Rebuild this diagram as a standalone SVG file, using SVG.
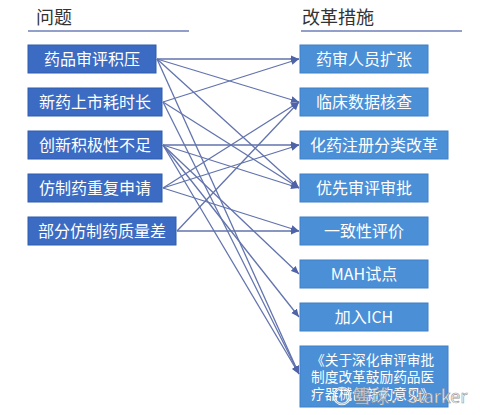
<svg xmlns="http://www.w3.org/2000/svg" width="480" height="415" viewBox="0 0 480 415">
<defs>
<marker id="ah" markerUnits="userSpaceOnUse" markerWidth="9" markerHeight="8" refX="8" refY="4" orient="auto">
<path d="M0,0.5 L8,4 L0,7.5 Z" fill="#4f63a8"/>
</marker>
<style>
.t{font-family:"Noto Sans CJK SC","Liberation Sans",sans-serif;fill:#fff;font-size:16px;text-anchor:middle}
.h{font-family:"Noto Sans CJK SC",sans-serif;fill:#333;font-size:18px}
.lb{fill:#3b6bc3;stroke:#2f5cae;stroke-width:1}
.rb{fill:#4b8fd6;stroke:#3f80c6;stroke-width:1}
.c{stroke:#6273ad;stroke-width:1.3;fill:none;marker-end:url(#ah)}
.u{stroke:#6c7fb8;stroke-width:1.6}
.t2{font-family:"Noto Sans CJK SC",sans-serif;fill:#fff;font-size:13.7px}
</style>
</defs>
<rect width="480" height="415" fill="#fff"/>
<g id="titles">
<text class="h" x="36" y="24">问题</text>
<line class="u" x1="28" y1="31" x2="189" y2="31"/>
<text class="h" x="302" y="24">改革措施</text>
<line class="u" x1="301" y1="31" x2="462" y2="31"/>
</g>
<g id="connectors">
<line class="c" x1="157" y1="59" x2="299" y2="59"/>
<line class="c" x1="157" y1="59" x2="299" y2="102"/>
<line class="c" x1="157" y1="59" x2="299" y2="188"/>
<line class="c" x1="157" y1="59" x2="299" y2="374"/>
<line class="c" x1="163" y1="102" x2="299" y2="59"/>
<line class="c" x1="163" y1="102" x2="299" y2="188"/>
<line class="c" x1="163" y1="102" x2="299" y2="374"/>
<line class="c" x1="163" y1="145" x2="299" y2="145"/>
<line class="c" x1="163" y1="145" x2="299" y2="188"/>
<line class="c" x1="163" y1="145" x2="299" y2="274"/>
<line class="c" x1="163" y1="145" x2="299" y2="317"/>
<line class="c" x1="163" y1="145" x2="299" y2="374"/>
<line class="c" x1="163" y1="188" x2="299" y2="102"/>
<line class="c" x1="163" y1="188" x2="299" y2="145"/>
<line class="c" x1="163" y1="188" x2="299" y2="231"/>
<line class="c" x1="177" y1="231" x2="299" y2="102"/>
<line class="c" x1="177" y1="231" x2="299" y2="231"/>
</g>
<g id="L1"><rect class="lb" x="28" y="45" width="128" height="28"/><text class="t" x="92" y="65">药品审评积压</text></g>
<g id="L2"><rect class="lb" x="28" y="88" width="134" height="28"/><text class="t" x="95" y="108">新药上市耗时长</text></g>
<g id="L3"><rect class="lb" x="28" y="131" width="134" height="28"/><text class="t" x="95" y="151">创新积极性不足</text></g>
<g id="L4"><rect class="lb" x="28" y="174" width="134" height="28"/><text class="t" x="95" y="194">仿制药重复申请</text></g>
<g id="L5"><rect class="lb" x="28" y="217" width="148" height="28"/><text class="t" x="102" y="237">部分仿制药质量差</text></g>
<g id="R1"><rect class="rb" x="300" y="45" width="128" height="28"/><text class="t" x="364" y="65">药审人员扩张</text></g>
<g id="R2"><rect class="rb" x="300" y="88" width="128" height="28"/><text class="t" x="364" y="108">临床数据核查</text></g>
<g id="R3"><rect class="rb" x="300" y="131" width="148" height="28"/><text class="t" x="374" y="151">化药注册分类改革</text></g>
<g id="R4"><rect class="rb" x="300" y="174" width="128" height="28"/><text class="t" x="364" y="194">优先审评审批</text></g>
<g id="R5"><rect class="rb" x="300" y="217" width="128" height="28"/><text class="t" x="364" y="237">一致性评价</text></g>
<g id="R6"><rect class="rb" x="300" y="260" width="128" height="28"/><text class="t" x="364" y="280">MAH试点</text></g>
<g id="R7"><rect class="rb" x="300" y="303" width="128" height="28"/><text class="t" x="364" y="323">加入ICH</text></g>
<g id="R8"><rect class="rb" x="300" y="346" width="148" height="61"/>
<text class="t2" x="311" y="365">《关于深化审评审批</text>
<text class="t2" x="311" y="382">制度改革鼓励药品医</text>
<text class="t2" x="311" y="399">疗器械创新的意见》</text>
</g>
<g id="watermark" opacity="0.9">
<circle cx="342" cy="396" r="8" fill="none" stroke="#fff" stroke-width="2.5"/>
<circle cx="342" cy="396" r="8" fill="none" stroke="#999" stroke-width="0.6"/>
<text x="353" y="403" font-family="Noto Sans CJK SC,sans-serif" font-size="18" fill="#fff" stroke="#8a8a8a" stroke-width="0.6">雪球：Starker</text>
</g>
</svg>
